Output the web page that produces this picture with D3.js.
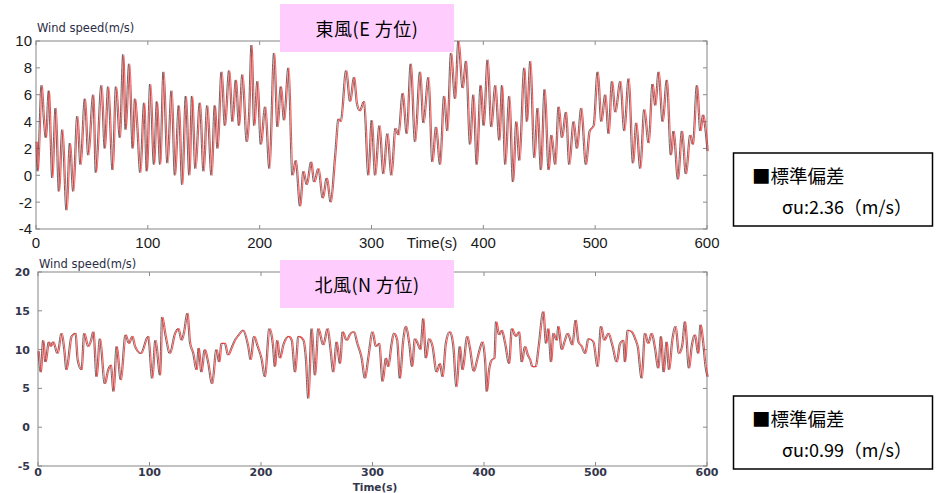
<!DOCTYPE html>
<html>
<head>
<meta charset="utf-8">
<script src="https://cdn.jsdelivr.net/npm/d3@7"></script>
<style>
  body { margin: 0; background: #fff; }
  svg { display: block; }
</style>
</head>
<body>
<svg id="svg" width="936" height="493"></svg>
<script>
// east wind: [time (s), speed (m/s)]
const eastWind = [
  [0, 2.5], [1, 0.3], [4.5, 6.7], [6.5, 4.2], [8.3, 2.8], [11, 6.3], [12.5, 3.0], [14, -0.2],
  [17, 5.0], [20, -1.2], [23, 3.4], [26.8, -2.6], [29.8, 2.4], [32.8, -1.2], [36.4, 4.4],
  [39.3, 0.8], [43.2, 5.7], [46.2, 1.5], [50.7, 6.0], [53, 0.2], [58, 6.7], [61, 2.0],
  [64, 6.6], [68, 0.4], [71, 6.6], [74.5, 2.8], [77.5, 9.0], [79.6, 3.4], [82.8, 8.3],
  [86, 2.0], [88, 5.7], [90, 3.7], [92.7, 0.2], [96.2, 5.4], [98.6, 0.3], [101.6, 6.8],
  [105, 0.8], [107.6, 5.5], [110.5, 0.8], [113.5, 7.7], [117, 0.9], [120.7, 6.3], [123.7, 0],
  [127.2, 5.2], [130.2, -0.7], [133.5, 5.9], [136.6, 0], [139, 5.9], [142, 0.5], [146, 5.4],
  [149.3, 0.3], [152.6, 5.2], [156.4, 0], [159.4, 5.2], [161.8, 2.0], [165.4, 7.7], [168.4, 3.7],
  [172.2, 7.8], [175.2, 4.0], [178.2, 7.1], [181, 3.7], [184, 7.5], [188, 2.5], [190, 4.5],
  [192.2, 9.7], [194.6, 3.7], [197.5, 7.0], [200.5, 2.3], [204.4, 5.1], [208.2, 0.5],
  [212.4, 9.1], [215.4, 3.6], [218.4, 6.6], [221.3, 4.1], [225.2, 8.0], [228.8, 0], [231.8, 1.1],
  [235.6, -2.3], [238.6, 0.3], [241.6, -0.7], [245.5, 1.0], [248.2, -0.5], [252, 0.5],
  [255.9, -1.7], [259.5, -0.2], [263, -2.0], [267, 1.5], [270, 4.2], [272, 4.0], [276.8, 7.8],
  [280.3, 5.5], [283.9, 7.3], [286.3, 5.4], [289, 4.8], [292.8, 5.5], [296.7, 0], [299.7, 4.1],
  [302.7, 0], [306.6, 3.7], [310.1, 0.1], [313.7, 3.1], [317.3, 0], [320.9, 3.5], [323.5, 3.0],
  [327.4, 6.1], [331, 3.1], [334.6, 8.3], [338.4, 2.5], [342.9, 7.7], [345.9, 3.9], [350.4, 7.3],
  [353.9, 1.0], [357.2, 3.6], [360.8, 0.8], [364.4, 5.9], [367.3, 3.3], [370.6, 9.1],
  [374.2, 5.7], [377.2, 10.0], [381, 6.5], [384, 8.5], [387.6, 2.3], [390.6, 6.0], [393.6, 0.8],
  [397.1, 6.7], [399.8, 3.7], [403.3, 8.6], [406.6, 3.6], [410.2, 6.7], [413.8, 2.6],
  [416.2, 6.7], [419.1, 0.8], [422.7, 5.9], [426, -0.5], [429, 4.0], [431.7, 1.1], [436.1, 8.0],
  [438.5, 4.0], [441.5, 8.5], [445.1, 1.3], [448, 5.0], [451, 0.4], [454.3, 6.4], [457.9, 0.4],
  [460.3, 3.0], [463.8, 0.8], [466.8, 5.1], [469.8, 2.8], [473.4, 4.7], [476.3, 0.8],
  [480.2, 4.0], [483.2, 2.0], [487, 5.0], [491.2, 0.8], [494.5, 3.3], [498.1, 3.7], [501.7, 7.7],
  [505, 4.0], [508.5, 6.0], [511.5, 3.1], [514.5, 7.0], [517.5, 4.7], [522, 7.0], [525.5, 3.3],
  [529.4, 7.2], [533.3, 0.9], [536.2, 3.9], [539.8, 0.5], [543.4, 4.9], [547.3, 2.4],
  [550.8, 6.8], [553.2, 5.2], [556.2, 7.7], [559.8, 4.0], [563.6, 7.1], [567.2, 1.5],
  [569.6, 3.3], [573.5, -0.3], [577.1, 3.3], [580.6, 0.1], [584.5, 3.0], [586.9, 2.3],
  [590.5, 6.7], [593.5, 3.3], [596, 4.5], [598, 3.5], [600, 1.8]
];

// north wind: [time (s), speed (m/s)]
const northWind = [
  [0, 9.8], [2, 7.1], [4.1, 11.2], [6.2, 8.4], [9.2, 11.0], [11, 10.4], [13, 11.0], [17, 9.5],
  [20.6, 12.1], [23, 10.0], [25, 7.4], [29.5, 11.7], [33.1, 12.1], [35, 8.7], [38.5, 7.4],
  [40.9, 12.1], [44.5, 10.4], [47, 11.2], [49.2, 12.3], [52, 6.5], [55, 11.4], [59.4, 5.6],
  [62.4, 7.4], [64.8, 8.0], [67.2, 4.6], [70, 10.4], [73.7, 6.1], [78, 11.9], [81, 10.8],
  [84, 11.7], [86.5, 10.4], [91.7, 9.5], [98.3, 11.7], [101.9, 6.3], [104.8, 11.2], [109, 6.7],
  [110.8, 14.2], [114, 11.7], [117.7, 9.5], [122.4, 12.1], [125.3, 12.7], [128.3, 11.2],
  [130.5, 12.3], [133.5, 14.7], [135.7, 11.0], [138.7, 9.5], [141.7, 7.4], [143.6, 10.2],
  [146, 7.1], [149, 10.0], [152, 8.4], [155.6, 5.6], [159.5, 10.0], [162, 8.4], [164, 10.8],
  [167, 10.8], [170, 9.3], [173, 10.2], [176, 11.2], [179.5, 11.9], [183.4, 12.5], [188, 10.4],
  [190.2, 8.7], [193.2, 11.7], [196.5, 10.4], [199.8, 8.9], [203, 6.5], [207, 12.7], [210, 10.8],
  [212, 7.8], [214, 11.2], [216.5, 8.9], [219.5, 10.6], [224, 11.7], [227, 11.2], [230, 7.1],
  [233, 11.7], [237.5, 11.2], [239.8, 8.7], [241.9, 3.7], [244.9, 12.7], [247.9, 6.7],
  [250.9, 12.7], [255.3, 10.6], [259.2, 12.7], [261.9, 9.9], [264.3, 7.1], [267.3, 11.0],
  [270.3, 8.2], [272.7, 12.3], [276.2, 11.2], [279.8, 12.1], [282.8, 12.3], [285.8, 10.8],
  [289.7, 8.9], [292.7, 6.3], [295.6, 8.9], [299.5, 12.3], [302.5, 10.4], [305.5, 10.8],
  [308.5, 5.9], [311.5, 8.9], [313.6, 7.8], [316.6, 10.8], [318.7, 12.1], [321.6, 11.2],
  [324, 6.3], [327, 11.2], [329.4, 13.0], [332.4, 10.8], [335, 7.8], [337.5, 11.4],
  [340.5, 10.6], [342.5, 10.0], [345, 14.0], [347.3, 8.9], [350.3, 11.4], [353.3, 10.4],
  [356.9, 7.1], [359.9, 8.2], [362.3, 6.5], [365.2, 10.8], [368.8, 12.3], [371.8, 10.6],
  [374.8, 5.2], [377.8, 10.4], [380.2, 7.4], [384.4, 11.7], [386.8, 10.2], [390.3, 7.2],
  [393.3, 8.7], [396.3, 10.4], [398, 11.0], [400.5, 8.4], [402, 4.6], [404, 7.4], [406.5, 8.7],
  [408.8, 8.9], [410.3, 13.6], [413, 11.9], [415.4, 12.5], [418.4, 10.8], [422, 8.2],
  [424.4, 12.7], [428, 11.7], [431, 12.3], [433.3, 8.4], [436.3, 10.4], [438.7, 9.3],
  [440.8, 8.7], [442.9, 7.8], [445.9, 7.8], [448.3, 10.2], [452.7, 14.9], [455.1, 10.8],
  [457.2, 12.7], [459.6, 8.4], [461.7, 12.1], [464.7, 11.2], [466.2, 13.0], [469.2, 10.0],
  [471.6, 11.0], [474.5, 12.1], [478.7, 10.6], [481.7, 13.8], [484.1, 11.0], [487.1, 10.4],
  [490.1, 9.5], [493.1, 11.4], [497.5, 11.0], [501.4, 7.8], [504.4, 13.0], [507.4, 11.2],
  [511, 12.1], [514.5, 10.6], [518.5, 8.4], [521.5, 10.8], [524.4, 11.2], [525.9, 8.4],
  [528.3, 12.5], [531.9, 12.3], [535.5, 11.2], [537.3, 10.4], [540.9, 6.3], [543.8, 12.1],
  [546.8, 10.8], [549.8, 12.1], [552.8, 10.2], [555.8, 7.6], [558.2, 11.7], [560.6, 7.1],
  [563.3, 11.0], [565.4, 7.4], [568.3, 11.2], [571.3, 13.0], [574.3, 9.5], [577.3, 10.6],
  [579.7, 13.6], [583.3, 7.6], [585.7, 10.4], [588.6, 11.9], [591.6, 9.5], [593.7, 13.2],
  [596.1, 10.8], [598.2, 7.8], [600, 6.5]
];

const timeTicks = [0, 100, 200, 300, 400, 500, 600];
const eastTicks = [-4, -2, 0, 2, 4, 6, 8, 10];
const northTicks = [-5, 0, 5, 10, 15, 20];

const titles = ["東風(E 方位)", "北風(N 方位)"];
const sigmas = ["2.36", "0.99"];

const svg = d3.select("#svg");

const panels = [
  {
    data: eastWind, yTicks: eastTicks, yDomain: [-4, 10],
    left: 36, right: 707, top: 41, bottom: 229,
    tickFont: "15px 'Liberation Sans', Arial, sans-serif", tickColor: "#1a1a1a",
    yLabX: 32, xLabY: 248, yLabelY: 32,
    timeX: 432, timeY: 248, timeFont: "15px 'Liberation Sans', Arial, sans-serif",
    boxY: 4, statY: 153
  },
  {
    data: northWind, yTicks: northTicks, yDomain: [-5, 20],
    left: 38, right: 707, top: 272, bottom: 466,
    tickFont: "bold 11px 'DejaVu Sans', Verdana, sans-serif", tickColor: "#33364c",
    yLabX: 30, xLabY: 476, yLabelY: 268,
    timeX: 375, timeY: 491, timeFont: "bold 10.5px 'DejaVu Sans', Verdana, sans-serif",
    boxY: 260, statY: 396
  }
];

panels.forEach((p, k) => {
  const x = d3.scaleLinear().domain([0, 600]).range([p.left, p.right]);
  const y = d3.scaleLinear().domain(p.yDomain).range([p.bottom, p.top]);
  const g = svg.append("g");

  // frame
  g.append("rect")
    .attr("x", p.left).attr("y", p.top)
    .attr("width", p.right - p.left).attr("height", p.bottom - p.top)
    .attr("fill", "#fff").attr("stroke", "#9a9a9a").attr("stroke-width", 1.2);

  // inner ticks on all four sides
  p.yTicks.forEach(v => {
    g.append("line").attr("x1", p.left).attr("x2", p.left + 4)
      .attr("y1", y(v)).attr("y2", y(v)).attr("stroke", "#8a8a8a");
    g.append("line").attr("x1", p.right).attr("x2", p.right - 4)
      .attr("y1", y(v)).attr("y2", y(v)).attr("stroke", "#8a8a8a");
    g.append("text")
      .attr("x", p.yLabX).attr("y", y(v))
      .attr("dy", "0.36em").attr("text-anchor", "end")
      .style("font", p.tickFont).attr("fill", p.tickColor)
      .text(v);
  });
  timeTicks.forEach(t => {
    g.append("line").attr("x1", x(t)).attr("x2", x(t))
      .attr("y1", p.bottom).attr("y2", p.bottom - 4).attr("stroke", "#8a8a8a");
    g.append("line").attr("x1", x(t)).attr("x2", x(t))
      .attr("y1", p.top).attr("y2", p.top + 4).attr("stroke", "#8a8a8a");
    g.append("text")
      .attr("x", x(t)).attr("y", p.xLabY)
      .attr("text-anchor", "middle")
      .style("font", p.tickFont).attr("fill", p.tickColor)
      .text(t);
  });

  g.append("text")
    .attr("x", p.left + 1).attr("y", p.yLabelY)
    .style("font", "11.5px 'DejaVu Sans', Verdana, sans-serif").attr("fill", "#2a2d44")
    .text("Wind speed(m/s)");

  g.append("text")
    .attr("x", p.timeX).attr("y", p.timeY)
    .attr("text-anchor", "middle")
    .style("font", p.timeFont).attr("fill", p.tickColor)
    .text("Time(s)");

  const line = d3.line()
    .x(d => x(d[0]))
    .y(d => y(d[1]))
    .curve(d3.curveMonotoneX);

  // dark trace underneath, red trace on top shifted a hair
  g.append("path").datum(p.data)
    .attr("d", line).attr("fill", "none")
    .attr("stroke", "#555").attr("stroke-width", 0.9);
  g.append("path").datum(p.data)
    .attr("d", line).attr("fill", "none")
    .attr("transform", "translate(1.3,0)")
    .attr("stroke", "#ff3030").attr("stroke-width", 1.1).attr("stroke-opacity", 0.85);

  // pink title box
  g.append("rect")
    .attr("x", 280).attr("y", p.boxY).attr("width", 174).attr("height", 48)
    .attr("fill", "#ffccfe");
  g.append("text")
    .attr("x", 367).attr("y", p.boxY + 32)
    .attr("text-anchor", "middle")
    .style("font", "18px 'Noto Sans CJK JP', sans-serif").attr("fill", "#000")
    .attr("letter-spacing", "0.5px")
    .text(titles[k]);

  // standard deviation box
  g.append("rect")
    .attr("x", 733.5).attr("y", p.statY).attr("width", 199).attr("height", 73)
    .attr("fill", "#fff").attr("stroke", "#000").attr("stroke-width", 1.5);
  g.append("text")
    .attr("x", 752).attr("y", p.statY + 30)
    .style("font", "18.5px 'Noto Sans CJK JP', sans-serif").attr("fill", "#000")
    .text("■標準偏差");
  g.append("text")
    .attr("x", 782).attr("y", p.statY + 61)
    .style("font", "18px 'Noto Sans CJK JP', sans-serif").attr("fill", "#000")
    .text(`σu:${sigmas[k]}（m/s）`);
});
</script>
</body>
</html>
